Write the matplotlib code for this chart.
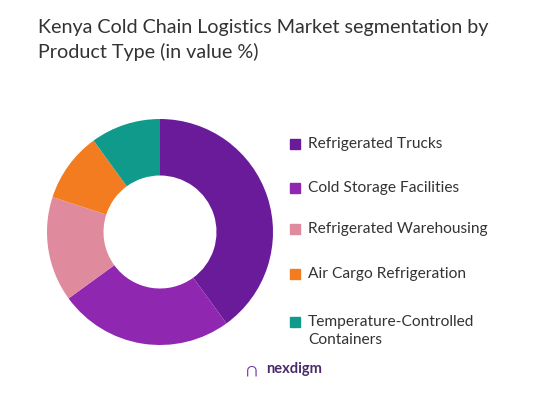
import matplotlib
matplotlib.use("Agg")
import matplotlib.pyplot as plt

labels = ["Refrigerated Trucks", "Cold Storage Facilities", "Refrigerated Warehousing",
          "Air Cargo Refrigeration", "Temperature-Controlled\nContainers"]
values = [40, 25, 15, 10, 10]
colors = ["#6a1b9a", "#9027b0", "#e08a9e", "#f47c20", "#109a8c"]

plt.rcParams['font.family'] = ['Lato', 'DejaVu Sans']
fig = plt.figure(figsize=(5.59, 4.17), dpi=100)

ax = fig.add_axes([(160 - 113)/559, 1 - (232 + 113)/417, 226/559, 226/417])
ax.pie(values, colors=colors, startangle=90, counterclock=False, radius=1,
       wedgeprops=dict(width=0.5, edgecolor="white", linewidth=0))
ax.set_xlim(-1, 1)
ax.set_ylim(-1, 1)
ax.set_aspect("equal")

fig.text(38/559, 1 - 28/417, "Kenya Cold Chain Logistics Market segmentation by",
         fontsize=14.2, color="#333333", va="center")
fig.text(38/559, 1 - 52/417, "Product Type (in value %)",
         fontsize=14.2, color="#333333", va="center")

ys = [144, 188, 229, 274, 322]
for lab, c, y in zip(labels, colors, ys):
    fig.patches.append(plt.Rectangle((290/559, 1 - (y + 5)/417), 10/559, 10/417,
                                     transform=fig.transFigure, color=c))
    yy = y if "\n" not in lab else y + 9
    fig.text(308/559, 1 - yy/417, lab, fontsize=11.2, color="#333333", va="center",
             linespacing=1.45)

fig.text(252/559, 1 - 370/417, "\u2229", fontsize=14, color="#7b2fa0", va="center", ha="center")
fig.text(266/559, 1 - 369/417, "nexdigm", fontsize=10.5, color="#4a2a6a", va="center",
         fontweight="bold")

fig.savefig("out.png", dpi=100)
